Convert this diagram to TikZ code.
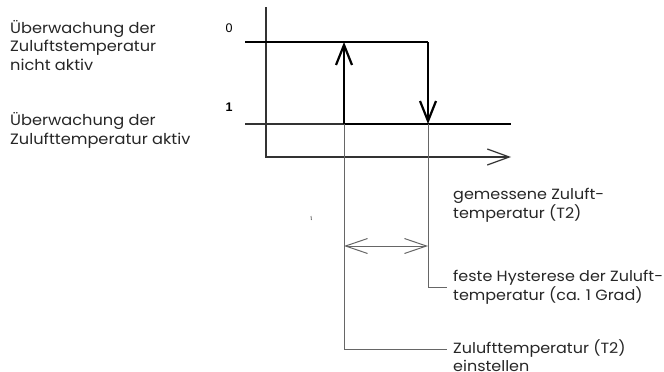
\documentclass[tikz,border=0pt]{standalone}
\usepackage{fontspec}
\setmainfont{Poppins}[FakeStretch=1.08]
\newfontfamily\statefont{Liberation Sans}
\usetikzlibrary{arrows.meta, positioning}

\begin{document}
\begin{tikzpicture}[
	x=1pt, y=-1pt,
	lbl/.style={align=left, inner xsep=6pt, inner ysep=0pt, font=\fontsize{14.8}{19}\selectfont, text=black!85},
	txt/.style={align=left, inner sep=0pt, anchor=base west, font=\fontsize{15}{18.5}\selectfont, text=black!85},
	state/.style={inner sep=0pt, font=\statefont\fontsize{12.5}{13}\selectfont},
	axis/.style={draw=black!80, line width=1.2pt},
	level/.style={draw=black, line width=2pt},
	pre/.style={draw=black!80, line width=1.2pt},
	jump/.style={draw=black, line width=2.2pt, -{Straight Barb[length=20pt, width=16pt]}},
	lead/.style={draw=black!60, line width=1pt},
	dim/.style={lead, {Straight Barb[length=22pt, width=15pt]}-{Straight Barb[length=22pt, width=15pt]}}
	]
	\useasboundingbox (0,0) rectangle (664,372);

	% axes and switching points
	\coordinate (ytop) at (266,7);
	\coordinate (xend) at (511,157);
	\coordinate (l0) at (245,42);
	\coordinate (l1) at (245,124);
	\coordinate (r1) at (511,124);
	\coordinate (on) at (344,124);
	\coordinate (ontop) at (344,42);
	\coordinate (off) at (428,42);
	\coordinate (offbot) at (428,124);

	\draw[axis, -{Straight Barb[length=22pt, width=16pt]}] (ytop) |- (xend);
	\draw[level] (l0) -- (off);
	\draw[pre] (l1) -- (on);
	\draw[level] (on) -- (r1);
	\draw[jump] (on) -- (ontop);
	\draw[jump] (off) -- (offbot);

	% labels
	\node[txt] (inactive) at (10,70) {Überwachung der\\Zuluftstemperatur\\nicht aktiv};
	\node[txt] (active) at (10,144.3) {Überwachung der\\Zulufttemperatur aktiv};
	\node[state] (s0) at (229,28) {0};
	\node[state, font=\statefont\bfseries\fontsize{12.5}{13}\selectfont] (s1) at (229,107.5) {1};
	\node[txt, font=\fontsize{14.8}{19}\selectfont] (meas) at (453,218) {gemessene Zuluft-\\temperatur (T2)};

	\node[lbl, anchor=west] (hyst) at (447,287) {feste Hysterese der Zuluft-\\temperatur (ca. 1 Grad)};
	\node[lbl, anchor=west] (set) at (447,349) {Zulufttemperatur (T2)};
	\node[lbl, anchor=north west, inner ysep=1.5pt] (set2) at (set.south west) {einstellen};

	% leaders
	\draw[lead] (on) |- (set);
	\draw[lead] (offbot) |- (hyst);
	\draw[dim] (on |- 0,246) -- (offbot |- 0,246);
	\draw[lead, line width=0.8pt] (311,216) -- (311.4,220);
\end{tikzpicture}
\end{document}
